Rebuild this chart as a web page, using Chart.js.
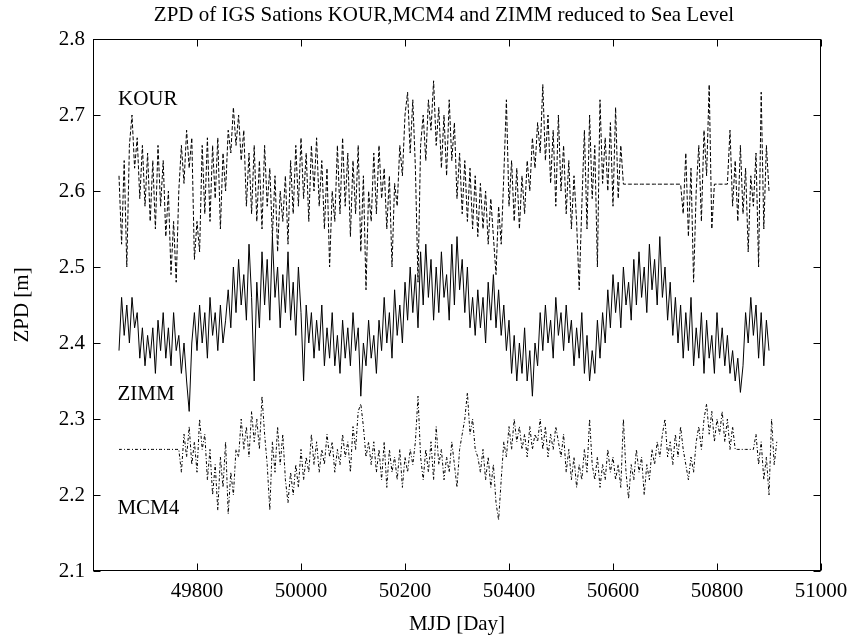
<!DOCTYPE html>
<html>
<head>
<meta charset="utf-8">
<script src="https://cdn.jsdelivr.net/npm/chart.js@4"></script>
<style>
html, body { margin: 0; padding: 0; background: #fff; }
#wrap { width: 849px; height: 643px; }
</style>
</head>
<body>
<div id="wrap"><canvas id="zpdChart" width="849" height="643"></canvas></div>
<script>
// daily ZPD series, every 5 days (metres)
const dayStep = 5;
const kourStart = 49650;
const zimmStart = 49650;
const mcm4Start = 49650;

const kourValues = [
  2.62, 2.53, 2.64, 2.50, 2.66, 2.70, 2.63, 2.67, 2.59, 2.66,
  2.58, 2.65, 2.56, 2.64, 2.55, 2.66, 2.58, 2.64, 2.54, 2.60,
  2.49, 2.56, 2.48, 2.60, 2.66, 2.61, 2.68, 2.63, 2.67, 2.51,
  2.56, 2.52, 2.66, 2.57, 2.67, 2.56, 2.66, 2.59, 2.67, 2.55,
  2.65, 2.60, 2.68, 2.65, 2.71, 2.66, 2.70, 2.64, 2.68, 2.58,
  2.65, 2.57, 2.66, 2.56, 2.64, 2.55, 2.66, 2.58, 2.63, 2.54,
  2.62, 2.52, 2.60, 2.56, 2.62, 2.53, 2.64, 2.57, 2.66, 2.58,
  2.67, 2.59, 2.65, 2.56, 2.66, 2.60, 2.67, 2.58, 2.64, 2.55,
  2.63, 2.50, 2.60, 2.56, 2.66, 2.57, 2.67, 2.58, 2.65, 2.54,
  2.64, 2.57, 2.66, 2.52, 2.62, 2.47, 2.60, 2.56, 2.65, 2.57,
  2.66, 2.59, 2.63, 2.55, 2.62, 2.50, 2.61, 2.58, 2.66, 2.62,
  2.70, 2.73, 2.65, 2.72, 2.63, 2.48, 2.66, 2.70, 2.64, 2.72,
  2.68, 2.745, 2.66, 2.71, 2.63, 2.70, 2.62, 2.72, 2.64, 2.69,
  2.59, 2.65, 2.57, 2.64, 2.56, 2.63, 2.55, 2.62, 2.54, 2.61,
  2.55, 2.60, 2.53, 2.59, 2.54, 2.49, 2.58, 2.53, 2.62, 2.72,
  2.58, 2.64, 2.56, 2.63, 2.55, 2.62, 2.57, 2.64, 2.60, 2.67,
  2.63, 2.69, 2.65, 2.74, 2.64, 2.70, 2.61, 2.68, 2.58, 2.70,
  2.60, 2.66, 2.57, 2.64, 2.55, 2.62, 2.56, 2.47, 2.58, 2.68,
  2.55, 2.70, 2.59, 2.66, 2.50, 2.72, 2.61, 2.67, 2.60, 2.69,
  2.58, 2.71, 2.59, 2.66, 2.609, 2.609, 2.609, 2.609, 2.609, 2.609,
  2.609, 2.609, 2.609, 2.609, 2.609, 2.609, 2.609, 2.609, 2.609, 2.609,
  2.609, 2.609, 2.609, 2.609, 2.609, 2.609, 2.609, 2.57, 2.65, 2.54,
  2.63, 2.48, 2.60, 2.66, 2.56, 2.68, 2.62, 2.74, 2.55, 2.609,
  2.609, 2.609, 2.609, 2.609, 2.609, 2.68, 2.58, 2.64, 2.56, 2.66,
  2.57, 2.63, 2.52, 2.62, 2.58, 2.65, 2.50, 2.73, 2.55, 2.66,
  2.60
];

const zimmValues = [
  2.39, 2.46, 2.41, 2.45, 2.40, 2.46, 2.42, 2.44, 2.38, 2.42,
  2.37, 2.41, 2.38, 2.42, 2.36, 2.43, 2.39, 2.44, 2.38, 2.42,
  2.37, 2.44, 2.39, 2.41, 2.36, 2.40, 2.35, 2.31, 2.40, 2.44,
  2.39, 2.45, 2.40, 2.44, 2.38, 2.46, 2.41, 2.44, 2.39, 2.45,
  2.40, 2.43, 2.47, 2.42, 2.50, 2.44, 2.51, 2.45, 2.49, 2.43,
  2.53, 2.46, 2.35, 2.48, 2.42, 2.52, 2.45, 2.51, 2.43, 2.54,
  2.46, 2.50, 2.42, 2.49, 2.44, 2.52, 2.43, 2.48, 2.41, 2.50,
  2.44, 2.35, 2.45, 2.40, 2.44, 2.38, 2.43, 2.39, 2.45, 2.37,
  2.42, 2.38, 2.44, 2.37, 2.41, 2.36, 2.43, 2.38, 2.42, 2.37,
  2.44, 2.39, 2.42, 2.33, 2.40, 2.37, 2.43, 2.38, 2.41, 2.36,
  2.43, 2.39, 2.46, 2.40, 2.44, 2.38, 2.47, 2.41, 2.45, 2.40,
  2.48, 2.43, 2.50, 2.44, 2.49, 2.42, 2.52, 2.45, 2.53, 2.46,
  2.51, 2.43, 2.50, 2.44, 2.52, 2.46, 2.49, 2.43, 2.53, 2.45,
  2.54, 2.47, 2.51, 2.44, 2.50, 2.42, 2.46, 2.41, 2.47, 2.42,
  2.46, 2.40, 2.48, 2.43, 2.49, 2.42, 2.47, 2.41, 2.45, 2.39,
  2.43, 2.36, 2.41, 2.35, 2.40, 2.36, 2.42, 2.35, 2.39, 2.33,
  2.40, 2.37, 2.44, 2.39, 2.45, 2.40, 2.43, 2.38, 2.46, 2.41,
  2.44, 2.39, 2.45, 2.40, 2.43, 2.37, 2.42, 2.38, 2.44, 2.36,
  2.41, 2.35, 2.39, 2.36, 2.43, 2.38, 2.44, 2.40, 2.47, 2.42,
  2.49, 2.44, 2.48, 2.42, 2.50, 2.45, 2.48, 2.43, 2.51, 2.45,
  2.52, 2.46, 2.50, 2.44, 2.53, 2.47, 2.51, 2.45, 2.54, 2.46,
  2.50, 2.43, 2.48, 2.41, 2.46, 2.40, 2.45, 2.38, 2.44, 2.39,
  2.46, 2.37, 2.42, 2.38, 2.44, 2.36, 2.43, 2.38, 2.41, 2.36,
  2.44, 2.38, 2.42, 2.37, 2.41, 2.36, 2.39, 2.35, 2.38, 2.335,
  2.37, 2.44, 2.40, 2.46, 2.41, 2.45, 2.38, 2.44, 2.37, 2.43,
  2.39
];

const mcm4Values = [
  2.26, 2.26, 2.26, 2.26, 2.26, 2.26, 2.26, 2.26, 2.26, 2.26,
  2.26, 2.26, 2.26, 2.26, 2.26, 2.26, 2.26, 2.26, 2.26, 2.26,
  2.26, 2.26, 2.26, 2.26, 2.23, 2.28, 2.25, 2.29, 2.24, 2.27,
  2.23, 2.30, 2.26, 2.28, 2.22, 2.26, 2.20, 2.24, 2.18, 2.25,
  2.21, 2.27, 2.175, 2.23, 2.20, 2.26, 2.25, 2.30, 2.26, 2.29,
  2.25, 2.31, 2.27, 2.30, 2.26, 2.33, 2.28, 2.24, 2.18, 2.27,
  2.23, 2.29, 2.24, 2.28, 2.22, 2.19, 2.23, 2.20, 2.24, 2.21,
  2.26, 2.22, 2.25, 2.23, 2.28, 2.24, 2.27, 2.23, 2.26, 2.24,
  2.28, 2.25, 2.27, 2.23, 2.26, 2.24, 2.28, 2.25, 2.27, 2.23,
  2.29, 2.26, 2.31, 2.32, 2.29, 2.25, 2.27, 2.24, 2.27, 2.23,
  2.26, 2.22, 2.27, 2.21, 2.26, 2.23, 2.25, 2.22, 2.26, 2.21,
  2.25, 2.23, 2.26, 2.24, 2.27, 2.33, 2.25, 2.22, 2.26, 2.23,
  2.27, 2.22, 2.29, 2.24, 2.26, 2.22, 2.25, 2.23, 2.27, 2.24,
  2.21, 2.26, 2.28, 2.30, 2.335, 2.28, 2.30, 2.26, 2.25, 2.23,
  2.26, 2.22, 2.25, 2.21, 2.24, 2.19, 2.167, 2.22, 2.27, 2.25,
  2.29, 2.26, 2.30, 2.27, 2.29, 2.26, 2.28, 2.25, 2.29, 2.26,
  2.28, 2.27, 2.30, 2.26, 2.29, 2.25, 2.28, 2.26, 2.29, 2.27,
  2.25, 2.28, 2.23, 2.26, 2.22, 2.25, 2.21, 2.24, 2.22, 2.26,
  2.23, 2.30, 2.24, 2.22, 2.25, 2.21, 2.24, 2.22, 2.26, 2.23,
  2.25, 2.22, 2.24, 2.21, 2.30, 2.23, 2.195, 2.24, 2.22, 2.26,
  2.23, 2.25, 2.20, 2.24, 2.22, 2.26, 2.24, 2.27, 2.25, 2.28,
  2.30, 2.25, 2.27, 2.24, 2.28, 2.25, 2.29, 2.26, 2.24, 2.22,
  2.25, 2.23, 2.27, 2.29, 2.26, 2.30, 2.32, 2.28, 2.31, 2.27,
  2.30, 2.28, 2.31, 2.27, 2.30, 2.26, 2.29, 2.26, 2.26, 2.26,
  2.26, 2.26, 2.26, 2.26, 2.26, 2.28, 2.24, 2.27, 2.22, 2.25,
  2.20, 2.30, 2.24, 2.27
];

const xTicks = [49600, 49800, 50000, 50200, 50400, 50600, 50800, 51000];
const yTicks = [2.1, 2.2, 2.3, 2.4, 2.5, 2.6, 2.7, 2.8];

const chartTitle = 'ZPD of IGS Sations KOUR,MCM4 and ZIMM reduced to Sea Level';

// station name labels placed in data coordinates
const stationLabels = [
  { text: 'KOUR', day: 49648, zpd: 2.72 },
  { text: 'ZIMM', day: 49647, zpd: 2.332 },
  { text: 'MCM4', day: 49647, zpd: 2.182 }
];

const toPoints = (start, values) => values.map((v, i) => ({ x: start + i * dayStep, y: v }));

const serif = "'Liberation Serif', 'Times New Roman', serif";

// MATLAB-style box with inward tick marks on all four sides, plus the text annotations
const boxTicks = {
  id: 'boxTicks',
  afterDraw(chart) {
    const { ctx, chartArea: a, scales } = chart;
    const L = Math.round(a.left) + 0.5, R = Math.round(a.right) - 0.5;
    const T = Math.round(a.top) + 0.5, B = Math.round(a.bottom) - 0.5;
    const len = 7;
    ctx.save();
    ctx.strokeStyle = '#000';
    ctx.lineWidth = 1;
    ctx.strokeRect(L, T, R - L, B - T);
    ctx.beginPath();
    xTicks.forEach(v => {
      const px = Math.round(scales.x.getPixelForValue(v)) + 0.5;
      ctx.moveTo(px, B); ctx.lineTo(px, B - len);
      ctx.moveTo(px, T); ctx.lineTo(px, T + len);
    });
    yTicks.forEach(v => {
      const py = Math.round(scales.y.getPixelForValue(v)) + 0.5;
      ctx.moveTo(L, py); ctx.lineTo(L + len, py);
      ctx.moveTo(R, py); ctx.lineTo(R - len, py);
    });
    ctx.stroke();

    ctx.fillStyle = '#000';
    ctx.font = '21px ' + serif;
    ctx.textAlign = 'left';
    ctx.textBaseline = 'middle';
    stationLabels.forEach(s => {
      ctx.fillText(s.text, scales.x.getPixelForValue(s.day), scales.y.getPixelForValue(s.zpd));
    });

    // title, centred a little left of the axes like the original
    ctx.textAlign = 'center';
    ctx.font = '21px ' + serif;
    ctx.fillText(chartTitle, 444, 15);
    ctx.restore();
  }
};

const lineStyle = (label, points, dash) => ({
  label,
  data: points,
  borderColor: '#000',
  borderWidth: 1,
  borderDash: dash,
  pointRadius: 0,
  tension: 0,
  fill: false
});

new Chart(document.getElementById('zpdChart'), {
  type: 'line',
  data: {
    datasets: [
      lineStyle('KOUR', toPoints(kourStart, kourValues), [4, 2]),
      lineStyle('ZIMM', toPoints(zimmStart, zimmValues), []),
      lineStyle('MCM4', toPoints(mcm4Start, mcm4Values), [3, 2, 1, 2])
    ]
  },
  options: {
    responsive: false,
    animation: false,
    layout: { padding: { left: 0, right: 28, top: 39, bottom: 0 } },
    plugins: {
      legend: { display: false },
      tooltip: { enabled: false },
      title: { display: false }
    },
    scales: {
      x: {
        type: 'linear',
        min: 49600,
        max: 51000,
        afterBuildTicks: s => { s.ticks = xTicks.map(v => ({ value: v })); },
        afterFit: s => { s.height = 72; s.paddingLeft = 0; s.paddingRight = 0; },
        grid: { display: false, drawTicks: false },
        border: { display: false },
        ticks: {
          color: '#000',
          padding: 8,
          maxRotation: 0,
          font: { family: serif, size: 21 },
          callback: v => (v === 49600 ? '' : String(v))
        },
        title: {
          display: true,
          text: 'MJD [Day]',
          color: '#000',
          font: { family: serif, size: 21 },
          padding: { top: 0, bottom: 6 }
        }
      },
      y: {
        min: 2.1,
        max: 2.8,
        afterBuildTicks: s => { s.ticks = yTicks.map(v => ({ value: v })); },
        afterFit: s => { s.width = 93; s.paddingTop = 0; s.paddingBottom = 0; },
        grid: { display: false, drawTicks: false },
        border: { display: false },
        ticks: {
          color: '#000',
          padding: 8,
          font: { family: serif, size: 21 },
          callback: v => v.toFixed(1)
        },
        title: {
          display: true,
          text: 'ZPD [m]',
          color: '#000',
          font: { family: serif, size: 21 },
          padding: { top: 10, bottom: 0 }
        }
      }
    }
  },
  plugins: [boxTicks]
});
</script>
</body>
</html>
